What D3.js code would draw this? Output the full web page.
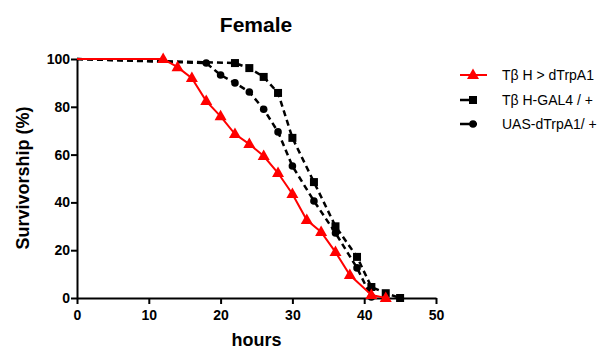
<!DOCTYPE html>
<html>
<head>
<meta charset="utf-8">
<script src="https://cdn.jsdelivr.net/npm/d3@7"></script>
<style>
  body { margin: 0; background: #fff; }
  text { font-family: "Liberation Sans", Arial, sans-serif; }
</style>
</head>
<body>
<svg id="chart" width="611" height="351"></svg>
<script>
// survival data (hours, % alive)
const redHours = [0, 12, 14, 16, 18, 20, 22, 24, 26, 28, 30, 32, 34, 36, 38, 41, 43];
const redValues = [100, 100, 96.6, 92, 82.4, 76, 68.6, 64.4, 59.4, 52.3, 43.5, 32.6, 27.6, 19.2, 9.6, 1.3, 0];

const squareHours = [0, 22, 24, 26, 28, 30, 33, 36, 39, 41, 43, 45];
const squareValues = [100, 98.3, 96.2, 92.5, 85.8, 67, 48.5, 30, 17.2, 4.6, 2, 0];

const circleHours = [0, 18, 20, 22, 24, 26, 28, 30, 33, 36, 39, 41];
const circleValues = [100, 98.3, 93.3, 90, 86.2, 79, 69.5, 55.2, 40.6, 27.2, 12.6, 0.4];

const seriesNames = ["T\u03b2 H > dTrpA1", "T\u03b2 H-GAL4 / +", "UAS-dTrpA1/ +"];
const xTicks = [0, 10, 20, 30, 40, 50];
const yTicks = [0, 20, 40, 60, 80, 100];

const svg = d3.select("#chart");
const margin = {left: 77, right: 175, top: 59, bottom: 53};
const width = 611, height = 351;

const x = d3.scaleLinear().domain([0, 50]).range([margin.left, width - margin.right]);
const y = d3.scaleLinear().domain([0, 100]).range([height - margin.bottom, margin.top]);

const series = [
  {name: seriesNames[0], hours: redHours, values: redValues, color: "#ff0000", dash: null, marker: "triangle"},
  {name: seriesNames[1], hours: squareHours, values: squareValues, color: "#000", dash: "6,4", marker: "square"},
  {name: seriesNames[2], hours: circleHours, values: circleValues, color: "#000", dash: "6,4", marker: "circle"}
];

function drawMarker(g, type, color) {
  if (type === "triangle") {
    g.append("path").attr("d", "M0,-6.5L6,4L-6,4Z").attr("fill", color);
  } else if (type === "square") {
    g.append("rect").attr("x", -4).attr("y", -4).attr("width", 8).attr("height", 8).attr("fill", color);
  } else {
    g.append("circle").attr("r", 3.8).attr("fill", color);
  }
}

// axes
const xAxis = svg.append("g")
  .attr("transform", `translate(0,${y(0)})`)
  .call(d3.axisBottom(x).tickValues(xTicks).tickSize(6).tickSizeOuter(0));
const yAxis = svg.append("g")
  .attr("transform", `translate(${x(0)},0)`)
  .call(d3.axisLeft(y).tickValues(yTicks).tickSize(6).tickSizeOuter(0));

[xAxis, yAxis].forEach(a => {
  a.select(".domain").attr("stroke", "#000").attr("stroke-width", 2);
  a.selectAll(".tick line").attr("stroke", "#000").attr("stroke-width", 2);
  a.selectAll(".tick text")
    .attr("fill", "#000")
    .style("font-size", "14px")
    .style("font-weight", "bold")
    .style("font-family", "'Liberation Sans', Arial, sans-serif");
});
xAxis.selectAll(".tick text").attr("dy", "0.95em");
yAxis.selectAll(".tick text").attr("x", -7);

// lines and markers (drawn back to front)
const line = d3.line().x(d => x(d[0])).y(d => y(d[1]));

[series[1], series[2], series[0]].forEach(s => {
  const pts = s.hours.map((h, i) => [h, s.values[i]]);
  svg.append("path")
    .datum(pts)
    .attr("d", line)
    .attr("fill", "none")
    .attr("stroke", s.color)
    .attr("stroke-width", s.dash ? 2.5 : 2)
    .attr("stroke-dasharray", s.dash);
  pts.slice(1).forEach(p => {
    const g = svg.append("g").attr("transform", `translate(${x(p[0])},${y(p[1])})`);
    drawMarker(g, s.marker, s.color);
  });
});

// title and labels
svg.append("text")
  .attr("x", 256).attr("y", 32)
  .attr("text-anchor", "middle")
  .style("font-size", "21px").style("font-weight", "bold")
  .text("Female");

svg.append("text")
  .attr("x", (x(0) + x(50)) / 2).attr("y", 346)
  .attr("text-anchor", "middle")
  .style("font-size", "18px").style("font-weight", "bold")
  .text("hours");

svg.append("text")
  .attr("transform", "translate(29,178) rotate(-90)")
  .attr("text-anchor", "middle")
  .style("font-size", "18px").style("font-weight", "bold")
  .text("Survivorship (%)");

// legend
const legendY = [75, 100, 124];
series.forEach((s, i) => {
  const g = svg.append("g").attr("transform", `translate(460,${legendY[i]})`);
  g.append("line")
    .attr("x1", 0).attr("x2", 27)
    .attr("stroke", s.color)
    .attr("stroke-width", s.dash ? 2.5 : 2)
    .attr("stroke-dasharray", s.dash ? "10,5,2,10" : null);
  const m = g.append("g").attr("transform", "translate(13,0)");
  drawMarker(m, s.marker, s.color);
  g.append("text")
    .attr("x", 42).attr("dy", "0.35em")
    .style("font-size", "14px")
    .text(s.name);
});
</script>
</body>
</html>
